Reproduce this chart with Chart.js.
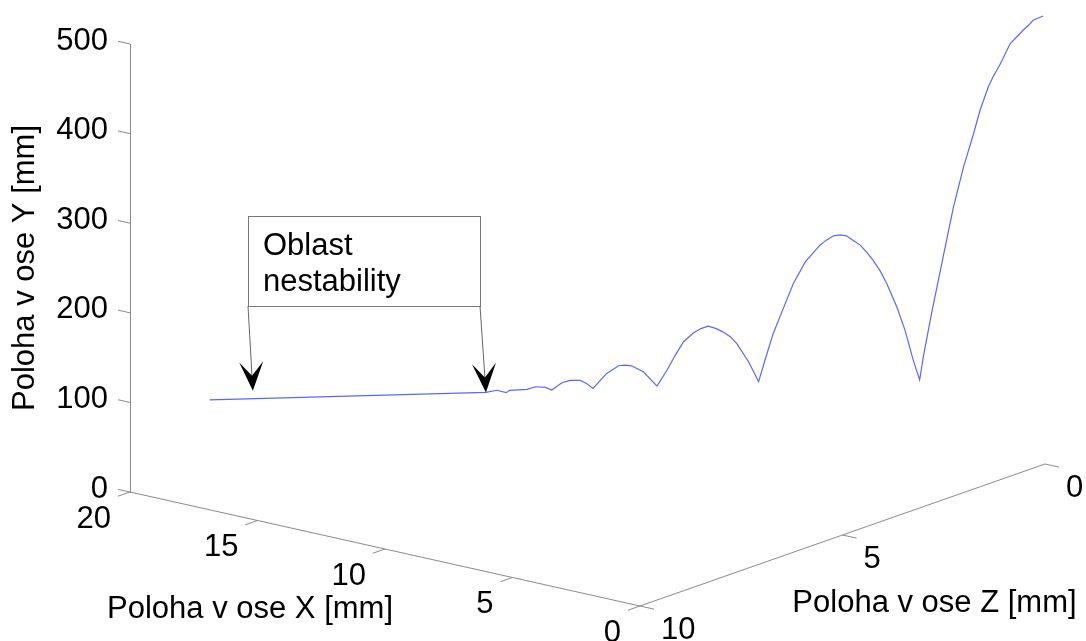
<!DOCTYPE html>
<html>
<head>
<meta charset="utf-8">
<script src="https://cdn.jsdelivr.net/npm/chart.js@4.4.1/dist/chart.umd.min.js"></script>
<style>
  html, body { margin: 0; padding: 0; background: #fff; }
</style>
</head>
<body>
<canvas id="trajChart" width="1086" height="641"></canvas>
<script>
// trajectory (ball path runs along X = 2Z on the floor)
const posZ = [9.13, 6.11, 5.99, 5.89, 5.85, 5.66, 5.57, 5.46, 5.39, 5.28, 5.19, 5.08, 5.01, 4.94,
  4.79, 4.66, 4.59, 4.52, 4.39, 4.24, 4.13, 4.04, 3.95, 3.84, 3.76, 3.68, 3.60, 3.52, 3.44, 3.37,
  3.24, 3.13, 3.06, 2.97, 2.86, 2.75, 2.62, 2.46, 2.39, 2.31, 2.24, 2.17, 2.10, 2.02, 1.95, 1.88,
  1.80, 1.73, 1.62, 1.53, 1.44, 1.37, 1.33, 1.24, 1.15, 1.06, 1.00, 0.89, 0.78, 0.71, 0.62, 0.57,
  0.49, 0.38, 0.31, 0.24, 0.18, 0.13, 0.08, 0.02];
const posX = [18.26, 12.22, 11.98, 11.78, 11.70, 11.32, 11.14, 10.92, 10.78, 10.56, 10.38, 10.16, 10.02, 9.88,
  9.58, 9.32, 9.18, 9.04, 8.78, 8.48, 8.26, 8.08, 7.90, 7.68, 7.52, 7.36, 7.20, 7.04, 6.88, 6.74,
  6.48, 6.26, 6.12, 5.94, 5.72, 5.50, 5.24, 4.92, 4.78, 4.62, 4.48, 4.34, 4.20, 4.04, 3.90, 3.76,
  3.60, 3.46, 3.24, 3.06, 2.88, 2.74, 2.66, 2.48, 2.30, 2.12, 2.00, 1.78, 1.56, 1.42, 1.24, 1.14,
  0.98, 0.76, 0.62, 0.48, 0.36, 0.26, 0.16, 0.04];
const posY = [100, 99, 101, 98, 100.5, 101, 103.6, 102.6, 99.4, 107.2, 109.6, 109.2, 105.6, 99.8,
  116.1, 124.2, 124.8, 123.7, 116.7, 100.2, 117.8, 134.2, 148.8, 158.4, 162.9, 165.4, 162.6, 158.5, 152.9, 145.1,
  124.2, 101.6, 125.6, 155, 182.6, 210.1, 233.8, 251.9, 257.3, 261.9, 262.7, 261.4, 256.4, 250.6, 242.5, 233.4,
  220.9, 206.9, 180.5, 154.2, 120.5, 98, 123.8, 172, 216.3, 260.6, 290.1, 334.4, 371.3, 397, 422.7, 433.4,
  447.7, 470.4, 477.5, 484.8, 490.2, 495.6, 497.7, 500.1];

const yTicks = [0, 100, 200, 300, 400, 500];
const xTicks = [20, 15, 10, 5, 0];
const zTicks = [10, 5, 0];

// arrow tips of the "Oblast nestability" note, in data coordinates
const noteTips = [
  { X: 17.31, Y: 108.8, Z: 8.66 },
  { X: 12.22, Y: 99, Z: 6.11 }
];

const FONT = "'Liberation Sans', Arial, Helvetica, sans-serif";
const FONT_SIZE = 31;
const AXIS_COLOR = '#8a8a8a';
const LINE_COLOR = 'rgb(92,102,255)';
const PX_PER_Y = 448 / 500;

// oblique view: Y axis stands at X=20, Z=10
function project(X, Y, Z) {
  const dx = -25.5 * (X - 20) - 40.5 * (Z - 10);
  const dy = -5.7 * (X - 20) + 14.2 * (Z - 10);
  return { x: dx, y: Y - dy / PX_PER_Y };
}

function toPixel(chart, X, Y, Z) {
  const p = project(X, Y, Z);
  return { x: chart.scales.x.getPixelForValue(p.x), y: chart.scales.y.getPixelForValue(p.y) };
}

function seg(ctx, a, b) {
  ctx.beginPath();
  ctx.moveTo(a.x, a.y);
  ctx.lineTo(b.x, b.y);
  ctx.stroke();
}

function drawArrow(ctx, from, tip) {
  const ang = Math.atan2(tip.y - from.y, tip.x - from.x);
  const dx = Math.cos(ang), dy = Math.sin(ang);
  const L = 29, W = 12, N = 15;
  ctx.strokeStyle = '#666';
  ctx.lineWidth = 1;
  seg(ctx, from, { x: tip.x - N * dx, y: tip.y - N * dy });
  ctx.fillStyle = '#000';
  ctx.beginPath();
  ctx.moveTo(tip.x, tip.y);
  ctx.lineTo(tip.x - L * dx - W * dy, tip.y - L * dy + W * dx);
  ctx.lineTo(tip.x - N * dx, tip.y - N * dy);
  ctx.lineTo(tip.x - L * dx + W * dy, tip.y - L * dy - W * dx);
  ctx.closePath();
  ctx.fill();
}

const axes3d = {
  id: 'axes3d',
  afterDraw(chart) {
    const ctx = chart.ctx;
    ctx.save();
    ctx.strokeStyle = AXIS_COLOR;
    ctx.lineWidth = 1;

    // floor axes
    seg(ctx, toPixel(chart, 20, 0, 10), toPixel(chart, 0, 0, 10));
    seg(ctx, toPixel(chart, 0, 0, 10), toPixel(chart, 0, 0, 0));

    yTicks.forEach(v => seg(ctx, toPixel(chart, 20, v, 10), toPixel(chart, 20.47, v, 10)));
    xTicks.forEach(v => seg(ctx, toPixel(chart, v, 0, 10), toPixel(chart, v, 0, 10.3)));
    zTicks.forEach(v => seg(ctx, toPixel(chart, 0, 0, v), toPixel(chart, -0.55, 0, v)));

    ctx.fillStyle = '#000';
    ctx.font = FONT_SIZE + 'px ' + FONT;
    ctx.textBaseline = 'middle';
    ctx.textAlign = 'right';
    xTicks.forEach(v => {
      const p = toPixel(chart, v, 0, 10);
      ctx.fillText(String(v), p.x - 19, p.y + 27);
    });
    ctx.textAlign = 'left';
    zTicks.forEach(v => {
      const p = toPixel(chart, 0, 0, v);
      ctx.fillText(String(v), p.x + 21, p.y + 24);
    });

    ctx.textAlign = 'center';
    const mx = toPixel(chart, 10, 0, 10);
    ctx.fillText('Poloha v ose X [mm]', mx.x - 135, mx.y + 60);
    const mz = toPixel(chart, 0, 0, 5);
    ctx.fillText('Poloha v ose Z [mm]', mz.x + 92, mz.y + 68);

    // note box
    const box = { left: 248, top: 216, right: 480, bottom: 306 };
    ctx.strokeStyle = '#777';
    ctx.strokeRect(box.left + 0.5, box.top + 0.5, box.right - box.left, box.bottom - box.top);
    ctx.textAlign = 'left';
    ctx.textBaseline = 'alphabetic';
    ctx.fillText('Oblast', box.left + 15, box.top + 39);
    ctx.fillText('nestability', box.left + 15, box.top + 75);

    const t1 = toPixel(chart, noteTips[0].X, noteTips[0].Y, noteTips[0].Z);
    const t2 = toPixel(chart, noteTips[1].X, noteTips[1].Y, noteTips[1].Z);
    drawArrow(ctx, { x: box.left, y: box.bottom }, t1);
    drawArrow(ctx, { x: box.right, y: box.bottom }, t2);
    ctx.restore();
  }
};

const trajectory = posZ.map((z, i) => project(posX[i], posY[i], z));

new Chart(document.getElementById('trajChart'), {
  type: 'scatter',
  data: {
    datasets: [{
      data: trajectory,
      showLine: true,
      borderColor: LINE_COLOR,
      borderWidth: 1.2,
      pointRadius: 0,
      tension: 0,
      clip: false
    }]
  },
  options: {
    responsive: false,
    animation: false,
    layout: { padding: { left: 0, top: 44, right: 6, bottom: 149 } },
    plugins: { legend: { display: false }, tooltip: { enabled: false } },
    scales: {
      x: { type: 'linear', display: false, min: 0, max: 950 },
      y: {
        type: 'linear',
        min: 0,
        max: 500,
        afterFit: s => { s.width = 130; },
        afterBuildTicks: s => { s.ticks = yTicks.map(v => ({ value: v })); },
        grid: { display: false, drawTicks: false },
        border: { display: true, color: AXIS_COLOR, width: 1 },
        ticks: { color: '#000', font: { family: FONT, size: FONT_SIZE }, padding: 22, labelOffset: -3 },
        title: {
          display: true,
          text: 'Poloha v ose Y [mm]',
          color: '#000',
          font: { family: FONT, size: FONT_SIZE },
          padding: { top: 7, bottom: 0 }
        }
      }
    }
  },
  plugins: [axes3d]
});
</script>
</body>
</html>
